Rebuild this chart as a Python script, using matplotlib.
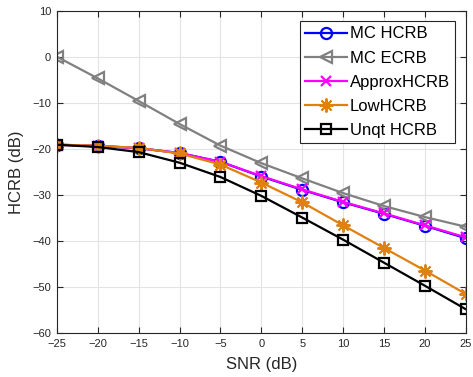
import matplotlib.pyplot as plt
import numpy as np

plt.rcParams["font.family"] = ["Liberation Sans", "DejaVu Sans"]
plt.rcParams["figure.dpi"] = 100

# data
snr = [-25, -20, -15, -10, -5, 0, 5, 10, 15, 20, 25]
mc_hcrb = [-19.1, -19.35, -19.85, -20.9, -22.8, -26.0, -28.9, -31.6, -34.1, -36.7, -39.4]
mc_ecrb = [0.0, -4.7, -9.6, -14.6, -19.3, -23.1, -26.4, -29.6, -32.4, -34.8, -36.9]
approx_hcrb = [-19.1, -19.35, -19.85, -20.9, -22.8, -25.9, -28.8, -31.5, -34.0, -36.6, -39.2]
low_hcrb = [-19.1, -19.3, -19.8, -21.0, -23.4, -27.3, -31.6, -36.6, -41.5, -46.4, -51.5]
unqt_hcrb = [-19.1, -19.6, -20.7, -23.0, -26.1, -30.2, -34.9, -39.7, -44.7, -49.7, -54.8]

fig = plt.figure(figsize=(4.73, 3.77))
ax = fig.add_axes([0.12, 0.116, 0.865, 0.856])

ax.plot(snr, mc_hcrb, color=(0, 0, 1), lw=1.6, marker='o', ms=8, mfc='none', mew=1.6, label='MC HCRB')
ax.plot(snr, mc_ecrb, color=(0.5, 0.5, 0.5), lw=1.6, marker='<', ms=9, mfc='none', mew=1.6, label='MC ECRB')
ax.plot(snr, approx_hcrb, color=(1, 0, 1), lw=1.6, marker='x', ms=7, mew=1.6, label='ApproxHCRB')
ax.plot(snr, low_hcrb, color='#E0800F', lw=1.6, marker=(8, 2, 0), ms=10, mew=1.4, label='LowHCRB')
ax.plot(snr, unqt_hcrb, color='k', lw=1.6, marker='s', ms=7, mfc='none', mew=1.6, label='Unqt HCRB')

ax.set_xlim(-25, 25)
ax.set_ylim(-60, 10)
ax.set_xticks(np.arange(-25, 26, 5))
ax.set_yticks(np.arange(-60, 11, 10))
ax.grid(True, color='#e3e3e3', lw=0.8)
ax.set_axisbelow(True)
ax.tick_params(direction='in', top=True, right=True, labelsize=8, colors='#262626', length=4, pad=4)
for s in ax.spines.values():
    s.set_color('#262626')
    s.set_linewidth(0.8)

ax.set_xlabel('SNR (dB)', fontsize=12, color='#262626', labelpad=6)
ax.set_ylabel('HCRB (dB)', fontsize=12, color='#262626', labelpad=6)

leg = ax.legend(loc='upper right', fontsize=12, frameon=True, fancybox=False, edgecolor='#262626',
                framealpha=1, borderpad=0.3, labelspacing=0.55, handlelength=2.5, handletextpad=0.2,
                borderaxespad=0.65)
leg.get_frame().set_linewidth(0.8)

fig.savefig('out.png', dpi=100)
